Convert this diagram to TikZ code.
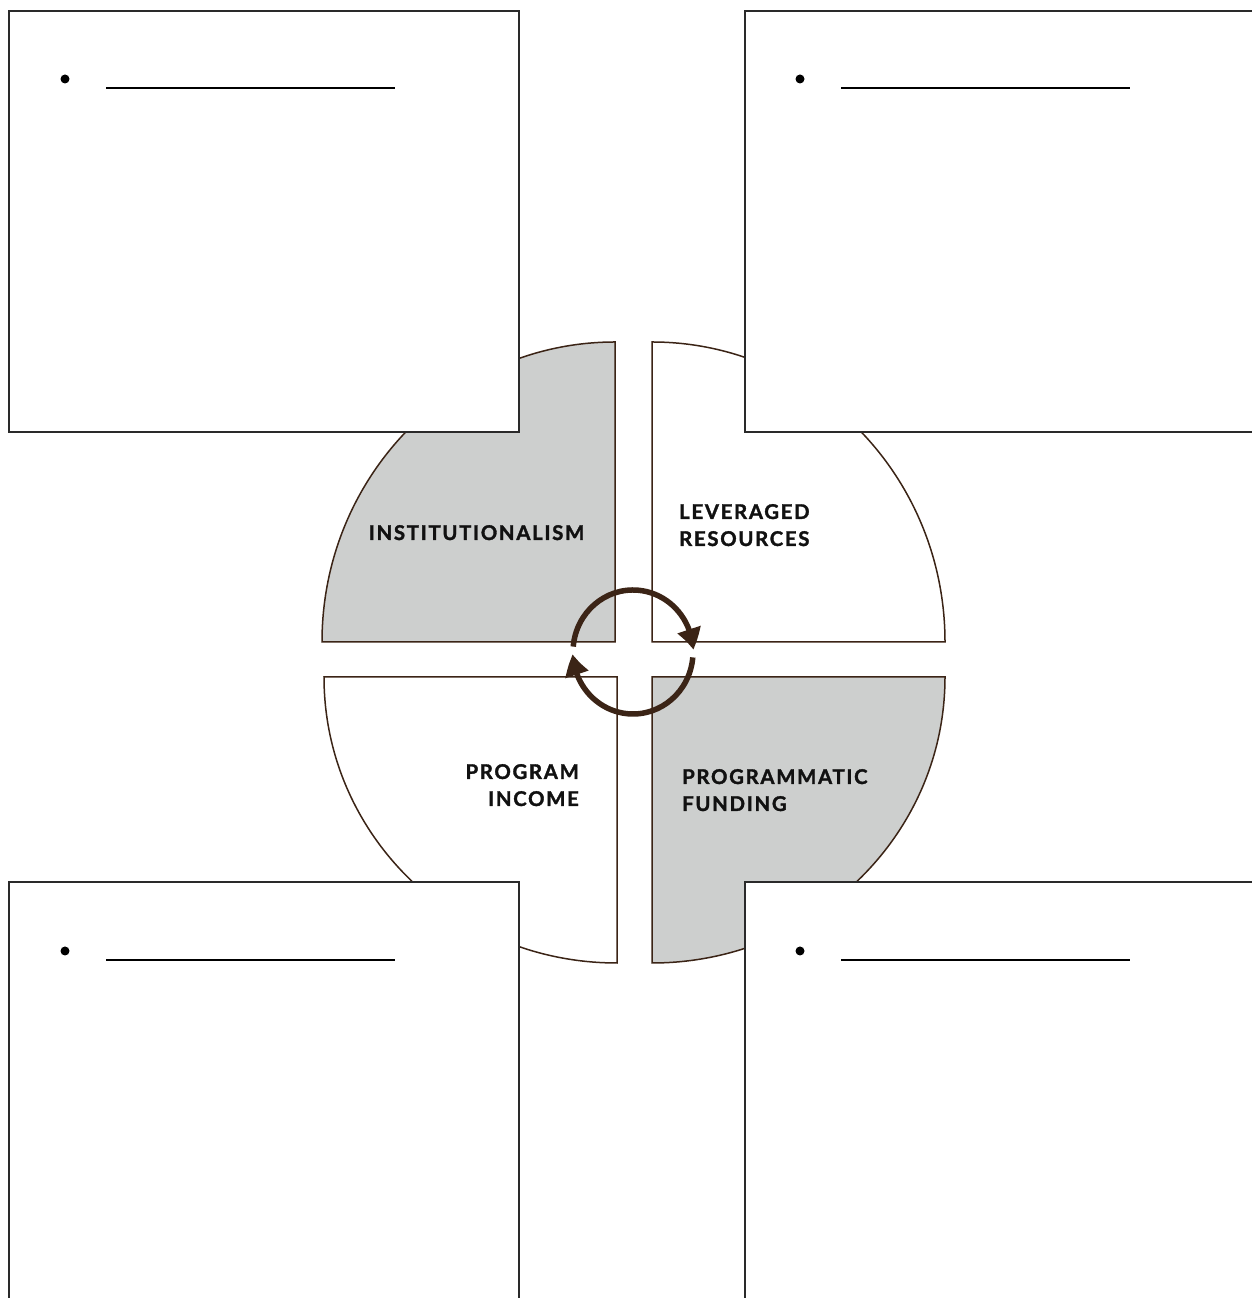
\documentclass[tikz,border=0pt]{standalone}
\usepackage{fontspec}
\setmainfont{Lato}[BoldFont={Lato Bold},BoldFeatures={FakeBold=1.6},LetterSpace=8.5]
\usetikzlibrary{arrows.meta,bending}
\definecolor{qline}{HTML}{3B2416}
\definecolor{qfill}{HTML}{CDCFCE}
\definecolor{boxline}{HTML}{2A2A2A}
\definecolor{txt}{HTML}{111111}
\tikzset{
  quad/.style={draw=qline,line width=1.5pt,line join=miter},
  quadgray/.style={quad,fill=qfill},
  panel/.style={draw=boxline,fill=white,line width=2.2pt},
  lbl/.style={inner sep=0pt,font=\fontsize{20.3}{27}\selectfont\bfseries,text=txt},
  blank/.style={draw=black,line width=2.2pt},
  cyc/.style={draw=qline,line width=5.5pt,-{Triangle[length=21pt,width=23pt,bend]}},
}
\begin{document}
\begin{tikzpicture}[x=1pt,y=1pt]
\useasboundingbox (0,0) rectangle (1252,1298);
\clip (0,0) rectangle (1252,1298);
% quadrants
\draw[quadgray] (615,656) -- (322,656) arc[start angle=180,end angle=90,x radius=293pt,y radius=300pt] -- cycle;
\draw[quad] (652,656) -- (652,956) arc[start angle=90,end angle=0,x radius=293pt,y radius=300pt] -- cycle;
\draw[quad] (617,621) -- (324,621) arc[start angle=180,end angle=270,x radius=293pt,y radius=286pt] -- cycle;
\draw[quadgray] (652,621) -- (945,621) arc[start angle=0,end angle=-90,x radius=293pt,y radius=286pt] -- cycle;
% panels
\node[panel,minimum width=510pt,minimum height=421pt,inner sep=0pt,anchor=south west] (tl) at (8,865) {};
\node[panel,minimum width=520pt,minimum height=421pt,inner sep=0pt,anchor=south west] (tr) at (744,865) {};
\node[panel,minimum width=510pt,minimum height=430pt,inner sep=0pt,anchor=south west] (bl) at (8,-15) {};
\node[panel,minimum width=520pt,minimum height=430pt,inner sep=0pt,anchor=south west] (br) at (744,-15) {};
% bullets
\foreach \n/\bx/\by in {tl/65/1219, tr/800/1219, bl/65/347, br/800/347}{
  \fill[black] (\bx,\by) circle[radius=4.5pt];
  \coordinate (\n-a) at ([xshift=41pt,yshift=-9pt]\bx,\by);
  \coordinate (\n-b) at ([xshift=330pt,yshift=-9pt]\bx,\by);
  \draw[blank] (\n-a) -- (\n-b);
}
% labels
\node[lbl,anchor=base] (inst) at (476.5,758) {INSTITUTIONALISM};
\node[lbl,anchor=base west] (lev1) at (679,779) {LEVERAGED};
\node[lbl,anchor=base west] (lev2) at (679,752) {RESOURCES};
\node[lbl,anchor=base east] (pro1) at (579,519) {PROGRAM};
\node[lbl,anchor=base east] (pro2) at (579,492) {INCOME};
\node[lbl,anchor=base west] (pf1) at (682,514) {PROGRAMMATIC};
\node[lbl,anchor=base west] (pf2) at (682,487) {FUNDING};
% cycle arrows
\coordinate (c) at (633,646);
\draw[cyc] ([shift={(175:60pt and 62pt)}]c) arc[start angle=175,end angle=2,x radius=60pt,y radius=62pt];
\draw[cyc] ([shift={(-5:60pt and 62pt)}]c) arc[start angle=-5,end angle=-178,x radius=60pt,y radius=62pt];
\end{tikzpicture}
\end{document}
